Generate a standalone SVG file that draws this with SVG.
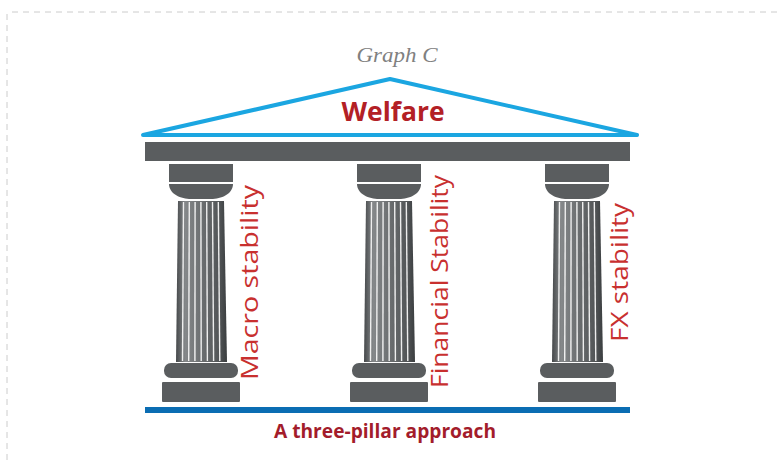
<svg xmlns="http://www.w3.org/2000/svg" xmlns:xlink="http://www.w3.org/1999/xlink" width="781" height="460" viewBox="0 0 781 460">
  <style>
    .frame { fill: none; stroke: #cccccc; stroke-width: 1; stroke-dasharray: 6 5; }
    .stone { fill: #5a5d5f; }
    .flute { stroke: #f6f6f6; stroke-width: 1.4; stroke-opacity: 0.95; }
    .label { font-family: "Open Sans", "Liberation Sans", sans-serif; font-size: 24px; fill: #c8302f; }
    .title { font-family: "Liberation Serif", serif; font-style: italic; font-size: 22px; fill: #808080; }
    .welfare { font-family: "Open Sans", "Liberation Sans", sans-serif; font-weight: 700; font-size: 27px; fill: #b32025; }
    .caption { font-family: "Open Sans", "Liberation Sans", sans-serif; font-weight: 700; font-size: 19px; fill: #a31c2b; }
  </style>
  <defs>
    <linearGradient id="shaftGrad" x1="0" y1="0" x2="1" y2="0">
      <stop offset="0" stop-color="#45484a"/>
      <stop offset="0.18" stop-color="#85888a"/>
      <stop offset="0.5" stop-color="#6c6f71"/>
      <stop offset="0.85" stop-color="#525557"/>
      <stop offset="1" stop-color="#3a3d3f"/>
    </linearGradient>
    <g id="pillar">
      <rect class="stone" x="-32" y="164" width="64" height="18"/>
      <path class="stone" d="M-32,184 H32 C32,194 20,199 10,199 H-10 C-20,199 -32,194 -32,184 Z"/>
      <polygon points="-23,201 23,201 26,362 -25,362" fill="url(#shaftGrad)"/>
      <g class="flute">
        <line x1="-17.5" y1="202" x2="-18.5" y2="361"/>
        <line x1="-11.7" y1="202" x2="-12.3" y2="361"/>
        <line x1="-5.9" y1="202" x2="-6.1" y2="361"/>
        <line x1="-0.1" y1="202" x2="0.2" y2="361"/>
        <line x1="5.7" y1="202" x2="6.4" y2="361"/>
        <line x1="11.5" y1="202" x2="12.6" y2="361"/>
        <line x1="17.3" y1="202" x2="18.8" y2="361"/>
      </g>
      <rect class="stone" x="-37" y="363" width="74" height="15" rx="7"/>
      <rect class="stone" x="-39" y="382" width="78" height="20" rx="1"/>
    </g>
  </defs>

  <g id="frame">
    <line class="frame" x1="12" y1="12" x2="781" y2="12"/>
    <line class="frame" x1="7" y1="14" x2="7" y2="460"/>
  </g>

  <g id="title">
    <text class="title" x="397" y="62" text-anchor="middle" textLength="81" lengthAdjust="spacingAndGlyphs">Graph C</text>
  </g>

  <g id="roof">
    <polygon points="143,135 390,79 637,135" fill="none" stroke="#1ba6e1" stroke-width="4" stroke-linejoin="round"/>
    <text class="welfare" x="393" y="121" text-anchor="middle" textLength="103" lengthAdjust="spacingAndGlyphs">Welfare</text>
  </g>

  <g id="beam">
    <rect class="stone" x="145" y="142" width="485" height="19"/>
  </g>

  <g id="pillar-macro">
    <use xlink:href="#pillar" href="#pillar" transform="translate(201,0)"/>
    <text class="label" transform="translate(258,380) rotate(-90)" textLength="195" lengthAdjust="spacingAndGlyphs">Macro stability</text>
  </g>

  <g id="pillar-financial">
    <use xlink:href="#pillar" href="#pillar" transform="translate(389,0)"/>
    <text class="label" transform="translate(448,388) rotate(-90)" textLength="213" lengthAdjust="spacingAndGlyphs">Financial Stability</text>
  </g>

  <g id="pillar-fx">
    <use xlink:href="#pillar" href="#pillar" transform="translate(577,0)"/>
    <text class="label" transform="translate(628,342) rotate(-90)" textLength="139" lengthAdjust="spacingAndGlyphs">FX stability</text>
  </g>

  <g id="foundation">
    <rect x="145" y="407" width="485" height="6" fill="#0b6db3"/>
    <text class="caption" x="385" y="438" text-anchor="middle" textLength="222" lengthAdjust="spacingAndGlyphs">A three-pillar approach</text>
  </g>
</svg>
